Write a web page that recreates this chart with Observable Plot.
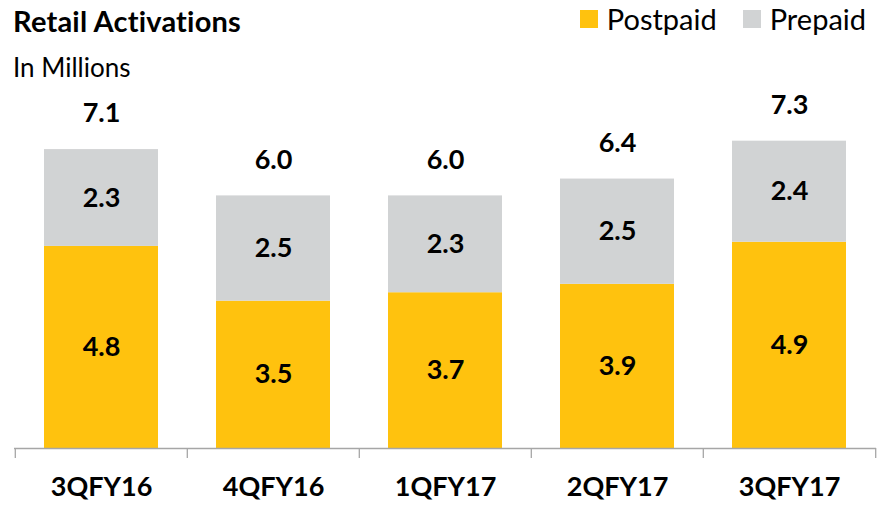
<!DOCTYPE html>
<html>
<head>
<meta charset="utf-8">
<script src="https://cdn.jsdelivr.net/npm/d3@7"></script>
<script src="https://cdn.jsdelivr.net/npm/@observablehq/plot@0.6"></script>
<style>
  html, body { margin: 0; padding: 0; background: #fff; }
  #wrap { position: relative; width: 882px; height: 506px; font-family: Lato, "Open Sans", sans-serif; color: #000; }
  #title { position: absolute; left: 13px; top: 3px; font-size: 29px; font-weight: 700; letter-spacing: 0.2px; }
  #subtitle { position: absolute; left: 13px; top: 51px; font-size: 26px; }
  #legend { position: absolute; right: 16px; top: 1px; font-size: 29px; display: flex; align-items: center; }
  #legend .sw { display: inline-block; width: 18px; height: 18px; margin-right: 9px; }
  #legend .item { display: flex; align-items: center; margin-left: 26px; }
  #chart { position: absolute; left: 0; top: 0; }
</style>
</head>
<body>
<div id="wrap">
  <div id="chart"></div>
  <div id="title">Retail Activations</div>
  <div id="subtitle">In Millions</div>
  <div id="legend"></div>
</div>
<script>
const quarters = ["3QFY16", "4QFY16", "1QFY17", "2QFY17", "3QFY17"];
const postpaid = [4.8, 3.5, 3.7, 3.9, 4.9];
const prepaid = [2.3, 2.5, 2.3, 2.5, 2.4];
const totals = [7.1, 6.0, 6.0, 6.4, 7.3];
const seriesNames = ["Postpaid", "Prepaid"];
const seriesColors = ["#FFC20E", "#D1D3D4"];

const rows = [];
quarters.forEach((q, i) => {
  rows.push({quarter: q, type: "Postpaid", value: postpaid[i]});
  rows.push({quarter: q, type: "Prepaid", value: prepaid[i]});
});
const totalRows = quarters.map((q, i) => ({quarter: q, sum: postpaid[i] + prepaid[i], label: totals[i].toFixed(1)}));

const W = 882, H = 506, mL = 14, mR = 6, mT = 27, mB = 58;
const step = (W - mL - mR) / quarters.length;

const plot = Plot.plot({
  width: W,
  height: H,
  marginLeft: mL,
  marginRight: mR,
  marginTop: mT,
  marginBottom: mB,
  style: {fontFamily: "Lato, 'Open Sans', sans-serif", background: "transparent", overflow: "visible"},
  x: {domain: quarters, paddingInner: 0.336, paddingOuter: 0.168, axis: null},
  y: {domain: [0, 10], axis: null},
  color: {domain: seriesNames, range: seriesColors},
  marks: [
    Plot.barY(rows, {x: "quarter", y: "value", fill: "type", order: seriesNames}),
    Plot.text(rows, Plot.stackY({x: "quarter", y: "value", z: "type", order: seriesNames, text: d => d.value.toFixed(1), fontSize: 27, fontWeight: 700, fill: "#000"})),
    Plot.text(totalRows, {x: "quarter", y: "sum", text: "label", dy: -36, fontSize: 27, fontWeight: 700, fill: "#000"}),
    Plot.ruleY([0], {stroke: "#A6A6A6", strokeWidth: 1.3}),
    Plot.ruleX(quarters, {x: d => d, y1: 0, y2: 0, insetBottom: -10, dx: -step / 2, stroke: "#A6A6A6", strokeWidth: 1.3}),
    Plot.ruleX(quarters.slice(-1), {x: d => d, y1: 0, y2: 0, insetBottom: -10, dx: step / 2, stroke: "#A6A6A6", strokeWidth: 1.3}),
    Plot.text(quarters, {x: d => d, text: d => d, frameAnchor: "bottom", dy: 47, fontSize: 27, fontWeight: 700, fill: "#000"})
  ]
});
document.getElementById("chart").appendChild(plot);

const legend = document.getElementById("legend");
seriesNames.forEach((n, i) => {
  const item = document.createElement("div");
  item.className = "item";
  const sw = document.createElement("span");
  sw.className = "sw";
  sw.style.background = seriesColors[i];
  const t = document.createElement("span");
  t.textContent = n;
  item.appendChild(sw);
  item.appendChild(t);
  legend.appendChild(item);
});
</script>
</body>
</html>
